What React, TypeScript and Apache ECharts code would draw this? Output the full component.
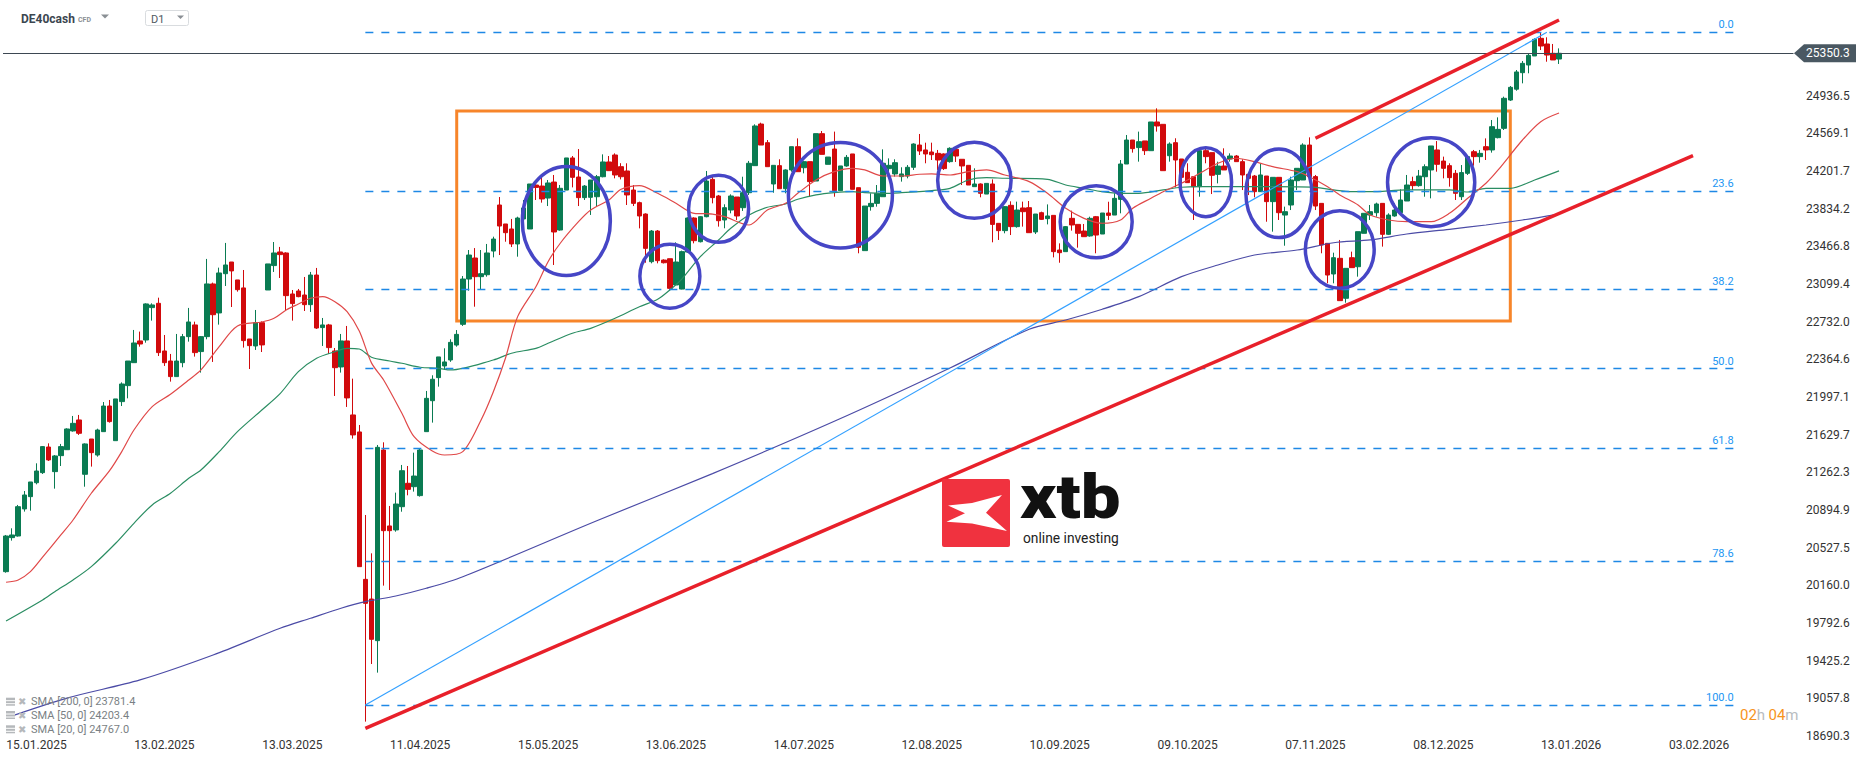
import { useEffect, useRef } from 'react';
import * as echarts from 'echarts';

// ---------- axis data ----------
const TICK_LABELS = ['15.01.2025', '13.02.2025', '13.03.2025', '11.04.2025', '15.05.2025', '13.06.2025', '14.07.2025', '12.08.2025', '10.09.2025', '09.10.2025', '07.11.2025', '08.12.2025', '13.01.2026', '03.02.2026'];
const FIRST_TICK = 5;
const TICK_STEP = 21;
const SLOT_COUNT = 294;
const Y_TICKS = [18690.3, 19057.8, 19425.2, 19792.6, 20160.0, 20527.5, 20894.9, 21262.3, 21629.7, 21997.1, 22364.6, 22732.0, 23099.4, 23466.8, 23834.2, 24201.7, 24569.1, 24936.5];
const Y_MIN = 18685;
const Y_MAX = 25870;
const LAST_PRICE = 25350.3;

// ---------- candles: [open, high, low, close] ----------
const OHLC = [
  [20293, 20651, 20283, 20641], [20625, 20716, 20596, 20651], [20641, 20944, 20635, 20927], [20905, 21080, 20879, 21041],
  [21025, 21168, 20888, 21168], [21161, 21350, 21145, 21275], [21259, 21519, 21246, 21513], [21509, 21545, 21373, 21383],
  [21269, 21431, 21103, 21422], [21425, 21539, 21324, 21513], [21483, 21692, 21480, 21685], [21666, 21812, 21659, 21740],
  [21773, 21822, 21627, 21643], [21243, 21545, 21122, 21539], [21587, 21587, 21318, 21454], [21431, 21688, 21415, 21675],
  [21659, 21948, 21659, 21909], [21909, 21968, 21747, 21757], [21571, 21978, 21571, 21978], [21952, 22140, 21909, 22124],
  [22108, 22348, 21984, 22348], [22332, 22651, 22332, 22524], [22544, 22635, 22488, 22514], [22553, 22911, 22527, 22905],
  [22869, 22911, 22742, 22895], [22911, 22966, 22397, 22430], [22446, 22602, 22300, 22332], [22348, 22417, 22147, 22196],
  [22196, 22612, 22196, 22348], [22332, 22612, 22287, 22586], [22586, 22866, 22537, 22729], [22700, 22732, 22391, 22430],
  [22440, 22592, 22235, 22586], [22586, 23344, 22560, 23100], [23100, 23113, 22339, 22800], [22817, 23259, 22703, 23207],
  [23200, 23500, 23080, 23285], [23314, 23314, 22875, 23227], [23139, 23139, 23025, 23044], [23061, 23236, 22479, 22547],
  [22563, 22563, 22270, 22498], [22495, 22846, 22456, 22722], [22722, 22735, 22436, 22505], [23041, 23295, 23041, 23295],
  [23279, 23509, 23217, 23402], [23412, 23461, 23158, 23386], [23402, 23409, 22846, 22986], [23002, 23041, 22742, 22908],
  [23031, 23051, 22970, 22976], [22992, 23168, 22836, 22898], [22898, 23217, 22827, 23187], [23187, 23256, 22661, 22670],
  [22674, 22768, 22495, 22700], [22700, 22710, 22417, 22479], [22446, 22475, 22007, 22283], [22290, 22612, 22235, 22544],
  [22544, 22690, 21900, 21988], [21822, 22176, 21591, 21627], [21656, 21724, 20342, 20342], [20218, 20846, 18830, 19984],
  [20026, 20472, 19392, 19633], [19620, 21529, 19308, 21506], [21480, 21555, 20157, 20693], [20739, 20934, 20114, 20693],
  [20700, 21064, 20683, 20953], [20927, 21334, 20878, 21278], [21155, 21324, 21038, 21096], [21122, 21454, 21074, 21226],
  [21035, 21496, 21025, 21480], [21659, 22056, 21659, 21984], [21961, 22209, 21747, 22170], [22186, 22388, 22098, 22388],
  [22300, 22472, 22261, 22339], [22358, 22560, 22340, 22530], [22504, 22650, 22488, 22608], [22706, 23177, 22690, 23148],
  [23148, 23431, 23034, 23382], [23353, 23450, 22878, 23171], [23171, 23431, 23047, 23200], [23190, 23490, 23171, 23402],
  [23421, 23561, 23359, 23538], [23870, 23948, 23382, 23665], [23685, 23685, 23512, 23600], [23636, 23734, 23460, 23490],
  [23490, 23756, 23366, 23743], [23734, 23919, 23734, 23841], [23636, 24075, 23636, 24075], [24065, 24114, 23919, 24042],
  [24055, 24172, 23893, 23929], [23938, 24114, 23860, 24085], [24094, 24163, 23285, 23607], [23626, 24065, 23620, 24033],
  [24016, 24329, 24016, 24329], [24329, 24348, 24042, 24140], [24143, 24416, 23860, 23942], [23942, 24065, 23919, 24055],
  [23945, 24114, 23773, 24114], [23951, 24163, 23853, 24146], [24146, 24364, 24140, 24290], [24290, 24348, 24202, 24205],
  [24358, 24374, 24130, 24163], [24244, 24278, 24120, 24146], [24202, 24277, 23870, 23968], [24016, 24065, 23860, 23886],
  [23893, 23903, 23642, 23763], [23782, 23789, 23307, 23447], [23317, 23626, 23301, 23616], [23616, 23626, 23301, 23327],
  [23333, 23340, 23300, 23307], [23346, 23346, 23034, 23057], [23090, 23506, 23090, 23314], [23050, 23425, 23047, 23415],
  [23411, 23750, 23405, 23743], [23743, 23750, 23496, 23522], [23512, 23760, 23505, 23756], [23756, 24202, 23750, 24104],
  [24120, 24146, 23886, 23942], [23958, 23968, 23659, 23717], [23724, 23877, 23643, 23844], [23821, 23974, 23789, 23958],
  [23948, 23948, 23724, 23763], [23844, 24146, 23812, 23990], [23990, 24300, 23968, 24277], [24254, 24657, 24254, 24641],
  [24660, 24673, 24455, 24455], [24478, 24504, 24244, 24244], [24075, 24257, 23990, 24257], [24254, 24316, 24029, 24029],
  [24029, 24218, 23984, 24212], [24212, 24439, 24195, 24439], [24439, 24520, 24195, 24195], [24234, 24300, 24179, 24293],
  [24293, 24293, 23951, 24098], [24104, 24566, 24104, 24566], [24566, 24592, 24364, 24364], [24267, 24338, 24267, 24338],
  [24416, 24586, 23951, 24010], [24010, 24251, 24010, 24251], [24251, 24358, 24244, 24335], [24368, 24368, 24023, 24023],
  [24039, 24039, 23399, 23457], [23425, 23860, 23425, 23860], [23854, 23984, 23815, 23886], [23886, 24065, 23854, 23984],
  [23951, 24413, 23951, 24277], [24225, 24325, 24179, 24257], [24173, 24316, 24147, 24283], [24147, 24238, 24098, 24173],
  [24153, 24260, 24130, 24238], [24238, 24472, 24212, 24465], [24455, 24563, 24358, 24397], [24407, 24478, 24277, 24368],
  [24387, 24478, 24309, 24361], [24374, 24407, 24212, 24309], [24368, 24374, 24212, 24225], [24293, 24433, 24283, 24423],
  [24413, 24423, 24290, 24348], [24316, 24316, 24065, 24251], [24257, 24257, 24065, 24065], [24049, 24228, 24049, 24075],
  [24075, 24081, 23945, 23984], [23977, 24081, 23977, 24081], [24075, 24120, 23506, 23681], [23691, 23691, 23529, 23620],
  [23620, 23860, 23594, 23854], [23867, 23906, 23577, 23659], [23659, 23903, 23649, 23821], [23841, 23903, 23659, 23805],
  [23844, 23909, 23600, 23600], [23607, 23782, 23587, 23782], [23795, 23805, 23724, 23730], [23737, 23876, 23681, 23763],
  [23769, 23769, 23359, 23415], [23431, 23496, 23307, 23405], [23415, 23665, 23415, 23659], [23740, 23815, 23620, 23675],
  [23681, 23681, 23454, 23594], [23616, 23685, 23561, 23561], [23568, 23756, 23561, 23740], [23756, 23763, 23399, 23577],
  [23587, 23792, 23587, 23792], [23792, 23902, 23724, 23769], [23772, 23984, 23772, 23935], [23925, 24309, 23789, 24270],
  [24270, 24553, 24270, 24504], [24504, 24504, 24381, 24420], [24430, 24586, 24293, 24488], [24495, 24495, 24358, 24400],
  [24400, 24680, 24400, 24680], [24680, 24813, 24586, 24641], [24657, 24657, 24205, 24205], [24351, 24481, 24293, 24465],
  [24478, 24521, 24042, 24309], [24319, 24319, 24016, 24140], [24189, 24277, 24088, 24088], [24146, 24146, 23724, 24049],
  [24049, 24413, 23951, 24400], [24400, 24416, 24277, 24342], [24381, 24381, 23977, 24160], [24169, 24293, 24081, 24250],
  [24250, 24423, 24212, 24212], [24319, 24374, 24293, 24348], [24348, 24358, 24293, 24293], [24293, 24316, 24016, 24163],
  [24169, 24179, 23967, 24130], [24153, 24163, 23945, 24000], [24000, 24277, 24000, 24163], [24153, 24153, 23707, 23903],
  [23903, 24140, 23610, 24140], [24140, 24140, 23724, 23795], [23772, 23854, 23473, 23805], [23870, 24146, 23821, 24114],
  [24107, 24228, 24016, 24228], [24114, 24472, 24114, 24455], [24455, 24530, 24100, 24146], [24147, 24163, 23821, 23860],
  [23886, 23886, 23399, 23480], [23496, 23496, 23106, 23187], [23197, 23405, 23106, 23356], [23350, 23529, 22937, 22937],
  [22960, 23252, 22917, 23252], [23356, 23415, 23259, 23259], [23268, 23610, 23171, 23610], [23594, 23789, 23594, 23789],
  [23772, 23870, 23724, 23805], [23795, 23893, 23756, 23880], [23886, 23886, 23464, 23584], [23584, 23789, 23577, 23772],
  [23763, 23886, 23756, 23821], [23795, 24023, 23789, 23919], [23909, 24163, 23909, 24065], [24098, 24146, 24016, 24059],
  [24059, 24212, 24049, 24153], [24146, 24267, 23951, 24244], [24212, 24446, 23935, 24446], [24407, 24494, 24195, 24267],
  [24299, 24342, 24130, 24228], [24254, 24277, 24049, 24137], [24179, 24212, 23919, 23984], [23951, 24260, 23919, 24186],
  [24179, 24358, 24163, 24342], [24390, 24407, 24254, 24342], [24342, 24407, 24283, 24374], [24439, 24520, 24309, 24407],
  [24407, 24699, 24381, 24634], [24527, 24725, 24520, 24608], [24618, 24927, 24602, 24911], [24894, 25031, 24885, 25018],
  [25000, 25187, 24985, 25168], [25161, 25275, 25057, 25252], [25236, 25350, 25155, 25330], [25324, 25496, 25324, 25486],
  [25496, 25551, 25382, 25421], [25441, 25506, 25268, 25333], [25350, 25441, 25285, 25285], [25294, 25398, 25246, 25350.3],
];

// ---------- moving averages: [bar index, value] ----------
const SMA20 = [
  [0, 20190], [2, 20212], [4, 20293], [6, 20434], [9, 20651], [11, 20797], [14, 21058], [17, 21278], [19, 21464],
  [21, 21675], [24, 21903], [27, 22024], [30, 22163], [32, 22261], [35, 22488], [38, 22690], [42, 22729], [44, 22765],
  [46, 22846], [48, 22904], [50, 22960], [52, 22976], [54, 22927], [56, 22829], [58, 22640], [60, 22330], [62, 22163],
  [65, 21838], [67, 21610], [70, 21470], [72, 21431], [75, 21464], [78, 21773], [80, 22046], [82, 22375], [84, 22781],
  [87, 23073], [89, 23317], [91, 23497], [94, 23707], [96, 23821], [99, 23919], [101, 24023], [104, 24059], [107, 23984],
  [110, 23887], [113, 23789], [116, 23782], [118, 23756], [122, 23675], [125, 23821], [128, 23887], [130, 23984],
  [133, 24114], [136, 24195], [139, 24228], [141, 24212], [144, 24153], [147, 24153], [150, 24170], [152, 24173],
  [155, 24163], [158, 24195], [161, 24212], [164, 24163], [168, 24098], [171, 23984], [174, 23838], [177, 23740],
  [180, 23692], [183, 23724], [185, 23838], [188, 23936], [190, 24000], [193, 24082], [196, 24179], [199, 24277],
  [202, 24326], [205, 24293], [208, 24244], [212, 24195], [214, 24146], [217, 24049], [219, 23968], [222, 23870],
  [224, 23773], [227, 23724], [230, 23707], [234, 23707], [237, 23789], [240, 23936], [243, 24082], [245, 24212],
  [249, 24504], [252, 24683], [255, 24767],
];
const SMA50 = [
  [0, 19812], [6, 20017], [8, 20098], [11, 20212], [14, 20342], [18, 20570], [21, 20765], [24, 20944], [27, 21058],
  [30, 21204], [32, 21285], [35, 21464], [38, 21659], [42, 21870], [45, 22030], [48, 22244], [51, 22375], [54, 22439],
  [56, 22472], [58, 22465], [60, 22385], [63, 22348], [65, 22326], [68, 22287], [71, 22277], [73, 22261], [80, 22358],
  [83, 22424], [87, 22472], [89, 22521], [93, 22619], [96, 22667], [100, 22765], [104, 22878], [107, 22950], [109, 23041],
  [111, 23150], [114, 23366], [117, 23529], [119, 23643], [122, 23773], [125, 23848], [128, 23880], [130, 23926],
  [133, 23968], [136, 23990], [139, 24000], [141, 23990], [144, 23984], [147, 23990], [150, 24000], [152, 24010],
  [155, 24033], [158, 24114], [161, 24137], [164, 24131], [171, 24121], [174, 24065], [177, 24033], [180, 24000],
  [183, 23984], [186, 23984], [190, 24017], [193, 24043], [196, 24049], [202, 24049], [208, 24049], [215, 24043],
  [218, 24017], [221, 24000], [224, 24000], [230, 24017], [237, 24017], [240, 23997], [243, 24033], [247, 24033],
  [251, 24114], [255, 24203],
];
const SMA200 = [
  [0, 18866], [10, 19060], [22, 19237], [34, 19480], [45, 19741], [50, 19839], [55, 19936], [59, 20000], [64, 20056],
  [69, 20131], [75, 20244], [97, 20790], [116, 21250], [136, 21760], [155, 22280], [168, 22658], [174, 22748],
  [180, 22853], [186, 22976], [193, 23171], [199, 23285], [205, 23382], [212, 23431], [218, 23502], [224, 23529],
  [230, 23587], [237, 23633], [243, 23675], [249, 23724], [255, 23781.4],
];
const SMA_LEGEND_NAMES = ['SMA [200, 0]', 'SMA [50, 0]', 'SMA [20, 0]'];
const SMA_LEGEND_VALUES = [23781.4, 24203.4, 24767.0];

// ---------- drawing tools ----------
const FIB_LEVELS = [0, 23.6, 38.2, 50, 61.8, 78.6, 100];
const FIB_HIGH = 25555;
const FIB_LOW = 18993;
const FIB_START = 59;
const FIB_END = 284;
const FIB_DIAGONAL = [[59, 18993], [253, 25555]];
const TREND_LOWER = [[59, 18765], [277, 24351]];
const TREND_UPPER = [[215, 24521], [255, 25675]];
const RANGE_BOX_X = [74, 247];
const RANGE_BOX_Y = [24787, 22739];
// [bar index, price, radiusX(px), radiusY(px)]
const ELLIPSES = [
  [92, 23714, 44, 54.5], [109, 23175, 30, 32], [117, 23833, 30, 33.5], [137, 23965, 52, 52.7], [159, 24111, 36.7, 38],
  [179, 23707, 36, 36], [197, 24093, 25.8, 34.5], [209, 23984, 33, 44.3], [219, 23436, 34.4, 38.8], [234, 24093, 43.6, 44.5],
];

const UP = '#0a7b52';
const DOWN = '#d10a0c';
const FONT = 'Roboto';

export default function App() {
  const ref = useRef<HTMLDivElement>(null);

  useEffect(() => {
    if (!ref.current) return;
    const chart = echarts.init(ref.current, null, { renderer: 'svg' });
    const slots = Array.from({ length: SLOT_COUNT }, (_, i) => String(i));
    const candleData = OHLC.map(([o, h, l, c]) => [o, c, l, h]);
    const fibPrice = (lvl: number) => FIB_HIGH - (FIB_HIGH - FIB_LOW) * lvl / 100;

    const smaSeries = (name: string, data: number[][], color: string) => ({
      name, type: 'line', data, symbol: 'none', showSymbol: false, smooth: 0.3, silent: true, z: 3,
      lineStyle: { color, width: 1.2 },
    });

    chart.setOption({
      animation: false,
      backgroundColor: '#ffffff',
      textStyle: { fontFamily: FONT },
      grid: { left: 3, right: 72.5, top: 0, bottom: 24.5, containLabel: false, outerBoundsMode: 'none' },
      xAxis: {
        type: 'category', data: slots, boundaryGap: true,
        axisLine: { show: false }, axisTick: { show: false }, splitLine: { show: false },
        axisLabel: {
          interval: (index: number) => index >= FIRST_TICK && (index - FIRST_TICK) % TICK_STEP === 0,
          formatter: (_v: string, index: number) => TICK_LABELS[(index - FIRST_TICK) / TICK_STEP] ?? '',
          color: '#333', fontSize: 12, margin: 2, fontFamily: FONT,
        },
      },
      yAxis: {
        type: 'value', position: 'right', min: Y_MIN, max: Y_MAX, scale: true,
        splitLine: { show: false }, axisLine: { show: false }, axisTick: { show: false },
        axisLabel: {
          customValues: Y_TICKS, formatter: (v: number) => v.toFixed(1),
          color: '#333', fontSize: 12, margin: 12.5, align: 'left', fontFamily: FONT,
        },
      },
      series: [
        {
          name: 'DE40cash', type: 'candlestick', data: candleData, barWidth: 5, z: 2,
          itemStyle: { color: UP, color0: DOWN, borderColor: UP, borderColor0: DOWN, borderWidth: 1 },
          markLine: {
            silent: true, symbol: ['none', 'none'], animation: false,
            lineStyle: { color: '#3d4852', width: 1, type: 'solid' },
            label: { show: false },
            data: [{ yAxis: LAST_PRICE }],
          },
          markArea: {
            silent: true,
            itemStyle: { color: 'rgba(0,0,0,0)', borderColor: '#f7852a', borderWidth: 3 },
            data: [[{ coord: [RANGE_BOX_X[0], RANGE_BOX_Y[0]] }, { coord: [RANGE_BOX_X[1], RANGE_BOX_Y[1]] }]],
          },
        },
        smaSeries('SMA200', SMA200, '#4b4ba6'),
        smaSeries('SMA50', SMA50, '#2a8d62'),
        smaSeries('SMA20', SMA20, '#e04848'),
        {
          name: 'Fibo', type: 'line', data: FIB_DIAGONAL, symbol: 'none', silent: true, z: 4,
          lineStyle: { color: '#33a0ff', width: 1.2 },
          markLine: {
            silent: true, symbol: ['none', 'none'],
            lineStyle: { color: '#1e88e5', width: 1.4, type: [8, 8] },
            label: { show: true, position: 'insideEndTop', color: '#2196f3', fontSize: 11, distance: 2, fontFamily: FONT },
            data: FIB_LEVELS.map((lvl) => [
              { coord: [FIB_START, fibPrice(lvl)], label: { formatter: lvl.toFixed(1) } },
              { coord: [FIB_END, fibPrice(lvl)] },
            ]),
          },
        },
        { name: 'TrendLow', type: 'line', data: TREND_LOWER, symbol: 'none', silent: true, z: 6, lineStyle: { color: '#e8202a', width: 3.5 } },
        { name: 'TrendHigh', type: 'line', data: TREND_UPPER, symbol: 'none', silent: true, z: 6, lineStyle: { color: '#e8202a', width: 3.5 } },
      ],
    });

    const toPx = (i: number, v: number) => chart.convertToPixel({ xAxisIndex: 0, yAxisIndex: 0 }, [i, v]) as number[];
    const priceY = toPx(0, LAST_PRICE)[1];

    const graphics: any[] = [];
    ELLIPSES.forEach(([i, p, rx, ry]) => {
      const [cx, cy] = toPx(i, p);
      graphics.push({ type: 'ellipse', silent: true, z: 50, shape: { cx, cy, rx, ry }, style: { fill: 'none', stroke: '#4646c6', lineWidth: 3.5 } });
    });

    // current price label
    graphics.push({
      type: 'polygon', z: 60, silent: true,
      shape: { points: [[1794, priceY], [1804, priceY - 9], [1856, priceY - 9], [1856, priceY + 9], [1804, priceY + 9]] },
      style: { fill: '#4a5862' },
    });
    graphics.push({
      type: 'text', z: 61, silent: true, x: 1806, y: priceY,
      style: { text: LAST_PRICE.toFixed(1), fill: '#ffffff', font: `12px ${FONT}`, verticalAlign: 'middle', align: 'left' },
    });

    // header
    graphics.push({ type: 'text', z: 60, x: 21, y: 19, style: { text: 'DE40cash', fill: '#3b4650', font: `bold 12px ${FONT}`, verticalAlign: 'middle' } });
    graphics.push({ type: 'text', z: 60, x: 78, y: 19.5, style: { text: 'CFD', fill: '#8a8f94', font: `bold 7px ${FONT}`, verticalAlign: 'middle' } });
    graphics.push({ type: 'polygon', z: 60, shape: { points: [[101, 14.5], [109, 14.5], [105, 18.5]] }, style: { fill: '#8a8f94' } });
    graphics.push({ type: 'rect', z: 60, shape: { x: 145.5, y: 10.5, width: 43, height: 15, r: 2 }, style: { fill: '#fff', stroke: '#d9dcdf', lineWidth: 1 } });
    graphics.push({ type: 'text', z: 61, x: 151, y: 19, style: { text: 'D1', fill: '#50585f', font: `11px ${FONT}`, verticalAlign: 'middle' } });
    graphics.push({ type: 'polygon', z: 61, shape: { points: [[177, 15.5], [184, 15.5], [180.5, 19]] }, style: { fill: '#8a8f94' } });

    // countdown
    graphics.push({
      type: 'text', z: 60, x: 1740, y: 715,
      style: {
        text: '{a|02}{b|h} {a|04}{b|m}', verticalAlign: 'middle',
        rich: { a: { fill: '#f7941d', font: `15px ${FONT}` }, b: { fill: '#b8bcc0', font: `15px ${FONT}` } },
      },
    });

    // SMA legend
    const legendY = [701.7, 715, 729.3];
    SMA_LEGEND_NAMES.forEach((name, k) => {
      const y = legendY[k];
      graphics.push({ type: 'rect', z: 60, shape: { x: 6, y: y - 4, width: 9, height: 8 }, style: { fill: '#b5b8bb' } });
      graphics.push({ type: 'line', z: 61, shape: { x1: 6, y1: y - 1, x2: 15, y2: y - 1 }, style: { stroke: '#fff', lineWidth: 1 } });
      graphics.push({ type: 'line', z: 61, shape: { x1: 6, y1: y + 2, x2: 15, y2: y + 2 }, style: { stroke: '#fff', lineWidth: 1 } });
      graphics.push({ type: 'text', z: 60, x: 18, y, style: { text: '✖', fill: '#b5b8bb', font: `10px 'DejaVu Sans'`, verticalAlign: 'middle' } });
      graphics.push({ type: 'text', z: 60, x: 31, y, style: { text: `${name} ${SMA_LEGEND_VALUES[k].toFixed(1)}`, fill: '#7a7f84', font: `11px ${FONT}`, verticalAlign: 'middle' } });
    });

    // xtb logo watermark
    graphics.push({ type: 'rect', z: 40, silent: true, shape: { x: 942, y: 479, width: 68, height: 68, r: 2 }, style: { fill: '#f0323f' } });
    graphics.push({
      type: 'polygon', z: 41, silent: true,
      shape: { points: [[948, 505.5], [972, 503], [1002, 495], [986, 512.7], [1007, 531], [972, 523.5], [946.5, 521.7], [965, 513.3]] },
      style: { fill: '#ffffff' },
    });
    graphics.push({ type: 'text', z: 41, silent: true, x: 1020, y: 528, scaleX: 1.14, style: { text: 'xtb', fill: '#111', font: `900 62px ${FONT}`, verticalAlign: 'bottom' } });
    graphics.push({ type: 'text', z: 41, silent: true, x: 1023, y: 537.5, style: { text: 'online investing', fill: '#222', font: `13.8px ${FONT}`, verticalAlign: 'middle' } });

    chart.setOption({ graphic: graphics });

    return () => chart.dispose();
  }, []);

  return <div ref={ref} style={{ position: 'fixed', left: 0, top: 0, width: 1866, height: 761, background: '#fff' }} />;
}
